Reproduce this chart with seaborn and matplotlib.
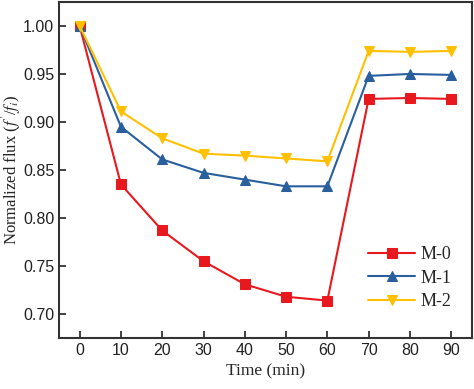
import numpy as np
import pandas as pd
import seaborn as sns
import matplotlib.pyplot as plt

time = [0, 10, 20, 30, 40, 50, 60, 70, 80, 90]
m0 = [1.000, 0.835, 0.787, 0.755, 0.731, 0.718, 0.714, 0.924, 0.925, 0.924]
m1 = [1.000, 0.895, 0.861, 0.847, 0.840, 0.833, 0.833, 0.948, 0.950, 0.949]
m2 = [1.000, 0.911, 0.883, 0.867, 0.865, 0.862, 0.859, 0.974, 0.973, 0.974]
names = ["M-0", "M-1", "M-2"]
colors = ["#e8191e", "#2a5f9e", "#ffc000"]
markers = ["s", "^", "v"]

df = pd.DataFrame({"Time": time * 3,
                   "Flux": m0 + m1 + m2,
                   "Sample": np.repeat(names, len(time))})

sns.set_style("ticks")
plt.rcParams['font.family'] = ['Liberation Sans', 'DejaVu Sans']
plt.rcParams['mathtext.fontset'] = 'stix'

fig = plt.figure(figsize=(4.74, 3.89), dpi=100)
ax = fig.add_axes([0.1245, 0.131, 0.871, 0.864])

sns.lineplot(data=df, x="Time", y="Flux", hue="Sample", style="Sample",
             palette=colors, markers=markers, dashes=False, markersize=6.5,
             markeredgecolor=None, linewidth=1.5, ax=ax)

ax.set_xlim(-5, 95)
ax.set_ylim(0.675, 1.025)
ax.set_xticks(time)
ax.set_yticks([0.70, 0.75, 0.80, 0.85, 0.90, 0.95, 1.00])
ax.set_yticklabels([f"{v:.2f}" for v in ax.get_yticks()])
ax.tick_params(direction="in", labelsize=11.5, length=5, width=1.2, colors="#222222")
for s in ax.spines.values():
    s.set_linewidth(1.5)
    s.set_color("#333333")

ax.set_xlabel("Time (min)", family="Liberation Serif", fontsize=12.5)
ax.set_ylabel(r"Normalized flux ($\it{f}\,'$/$\it{f}_{i}$)", family="Liberation Serif", fontsize=12)
ax.yaxis.set_label_coords(-0.088, 0.5)

leg = ax.legend(title=None, frameon=False, loc="lower right",
                bbox_to_anchor=(0.99, 0.035), prop={"family": "Liberation Serif", "size": 13},
                handlelength=2.6, handletextpad=0.3, labelspacing=0.35)

fig.savefig("out.png", dpi=100)
